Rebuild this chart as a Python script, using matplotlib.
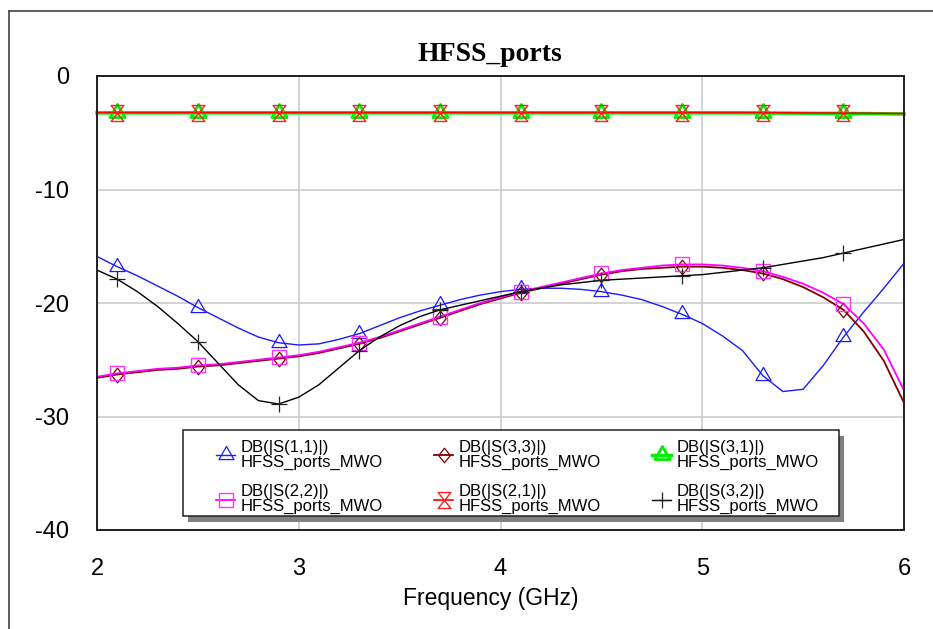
import numpy as np
import matplotlib
matplotlib.use("Agg")
import matplotlib.pyplot as plt
from matplotlib.path import Path
from matplotlib.patches import Rectangle
from matplotlib.lines import Line2D

plt.rcParams['font.family'] = ['Liberation Sans', 'DejaVu Sans']
plt.rcParams['axes.unicode_minus'] = False

W, H = 933, 629

# frequency grid (GHz), 0.1 GHz step
freq = np.linspace(2.0, 6.0, 41)

# DB(|S(1,1)|)
s11 = [-15.9, -16.8, -17.6, -18.5, -19.4, -20.4, -21.3, -22.2, -23.0, -23.5,
       -23.7, -23.6, -23.2, -22.7, -22.0, -21.3, -20.7, -20.2, -19.7, -19.3,
       -19.0, -18.8, -18.7, -18.7, -18.8, -19.0, -19.3, -19.7, -20.3, -21.0,
       -21.8, -22.9, -24.2, -26.4, -27.8, -27.6, -25.5, -23.0, -20.8, -18.7,
       -16.5]
# DB(|S(3,2)|)
s32 = [-17.1, -17.9, -19.0, -20.3, -21.8, -23.4, -25.3, -27.2, -28.6, -28.9,
       -28.3, -27.2, -25.7, -24.2, -23.0, -22.0, -21.2, -20.6, -20.2, -19.8,
       -19.4, -19.0, -18.7, -18.4, -18.2, -18.0, -17.9, -17.8, -17.7, -17.6,
       -17.5, -17.3, -17.1, -16.9, -16.6, -16.3, -16.0, -15.6, -15.2, -14.8,
       -14.4]
# DB(|S(2,2)|)
s22 = [-26.5, -26.2, -26.0, -25.8, -25.7, -25.5, -25.4, -25.2, -25.0, -24.8,
       -24.6, -24.3, -23.9, -23.5, -23.0, -22.4, -21.8, -21.2, -20.6, -20.0,
       -19.5, -19.0, -18.6, -18.2, -17.8, -17.4, -17.1, -16.9, -16.7, -16.6,
       -16.6, -16.7, -16.9, -17.2, -17.7, -18.3, -19.1, -20.1, -21.8, -24.1,
       -27.7]
# DB(|S(3,3)|)
s33 = [-26.6, -26.3, -26.1, -25.9, -25.8, -25.6, -25.5, -25.3, -25.1, -24.9,
       -24.7, -24.4, -24.0, -23.6, -23.1, -22.5, -21.9, -21.3, -20.7, -20.1,
       -19.6, -19.1, -18.7, -18.3, -17.9, -17.5, -17.2, -17.0, -16.9, -16.8,
       -16.8, -16.9, -17.1, -17.4, -17.9, -18.6, -19.5, -20.6, -22.5, -25.1,
       -28.8]
# DB(|S(3,1)|)
s31 = [-3.25] * 33 + [-3.26, -3.27, -3.28, -3.29, -3.30, -3.31, -3.33, -3.35]
# DB(|S(2,1)|)
s21 = [-3.22] * 33 + [-3.23, -3.24, -3.25, -3.26, -3.27, -3.28, -3.29, -3.30]

labels = ['DB(|S(1,1)|)', 'DB(|S(2,2)|)', 'DB(|S(3,3)|)',
          'DB(|S(2,1)|)', 'DB(|S(3,1)|)', 'DB(|S(3,2)|)']
source = 'HFSS_ports_MWO'

# marker shapes
tri = Path([(0, 0.69), (-0.575, -0.31), (0.575, -0.31), (0, 0.69)],
           [Path.MOVETO, Path.LINETO, Path.LINETO, Path.CLOSEPOLY])
diam = Path([(0, 1), (0.8, 0), (0, -1), (-0.8, 0), (0, 1)],
            [Path.MOVETO, Path.LINETO, Path.LINETO, Path.LINETO, Path.CLOSEPOLY])
hourglass = Path([(-0.8, 1), (0.8, 1), (-0.8, -1), (0.8, -1), (-0.8, 1)],
                 [Path.MOVETO, Path.LINETO, Path.LINETO, Path.LINETO, Path.CLOSEPOLY])

fig = plt.figure(figsize=(W / 100, H / 100), dpi=100)
ax = fig.add_axes([97 / W, 1 - 530 / H, 807 / W, 454 / H])

mk = slice(1, None, 4)
common = dict(markevery=mk, markerfacecolor='none', clip_on=False)

l11, = ax.plot(freq, s11, color='#1a1aff', lw=1.0, marker=tri, ms=13,
               mec='#1a1aff', mew=0.9, **common)
l33, = ax.plot(freq, s33, color='#800000', lw=1.3, marker=diam, ms=10.5,
               mec='#800000', mew=0.9, **common)
l22, = ax.plot(freq, s22, color='#ff00ff', lw=1.3, marker='s', ms=9.5,
               mec='#ff33ff', mew=1.0, **common)
l32, = ax.plot(freq, s32, color='black', lw=1.0, marker='+', ms=12,
               mec='#222222', mew=0.9, **common)
l31, = ax.plot(freq, s31, color='#00ee00', lw=2.5, marker=tri, ms=13,
               mec='#00ee00', mew=2.0, **common)
l21, = ax.plot(freq, s21, color='#ff0000', lw=1.2, marker=hourglass, ms=11.5,
               mec='#ff2020', mew=1.0, **common)

ax.set_xlim(2, 6)
ax.set_ylim(-40, 0)
ax.set_xticks([2, 3, 4, 5, 6])
ax.set_yticks([0, -10, -20, -30, -40])
ax.tick_params(length=0, labelsize=17)
ax.tick_params(axis='x', pad=20)
ax.tick_params(axis='y', pad=20)
ax.grid(True, color='#c8c8c8', lw=1.1)
ax.set_axisbelow(True)
for sp in ax.spines.values():
    sp.set_color('#202020')
    sp.set_linewidth(1.4)

# title and axis label
fig.text(490 / W, 1 - 61 / H, 'HFSS_ports', ha='center', va='baseline',
         fontsize=20, fontweight='bold', family=['Liberation Serif', 'DejaVu Serif'])
fig.text(491 / W, 1 - 598 / H, 'Frequency (GHz)', ha='center', va='center',
         fontsize=16.5)

# outer frame (top and left edges only)
fig.add_artist(Line2D([9 / W, 1], [1 - 10.5 / H, 1 - 10.5 / H], color='#505050', lw=1.3))
fig.add_artist(Line2D([9 / W, 9 / W], [0, 1 - 10.5 / H], color='#505050', lw=1.3))

# legend frame with solid shadow
lx0, ly0, lx1, ly1 = 183, 430, 839, 516
fig.add_artist(Rectangle(((lx0 + 5) / W, 1 - (ly1 + 6) / H), (lx1 - lx0) / W, (ly1 - ly0) / H,
                         transform=fig.transFigure, facecolor='#808080', edgecolor='none', zorder=3))
fig.add_artist(Rectangle((lx0 / W, 1 - ly1 / H), (lx1 - lx0) / W, (ly1 - ly0) / H,
                         transform=fig.transFigure, facecolor='white', edgecolor='#202020',
                         lw=1.1, zorder=4))

handles = [l11, l22, l33, l21, l31, l32]
leg = fig.legend(handles, [f'{lab}\n{source}' for lab in labels],
                 loc='upper left', bbox_to_anchor=(216 / W, 1 - 440 / H),
                 ncol=3, frameon=False, borderpad=0, borderaxespad=0, fontsize=12,
                 handlelength=1.15, handletextpad=0.3, columnspacing=3.1,
                 labelspacing=0.85, numpoints=1)
leg.set_zorder(5)
for t in leg.get_texts():
    t.set_linespacing(1.0)

fig.savefig('out.png', dpi=100)
